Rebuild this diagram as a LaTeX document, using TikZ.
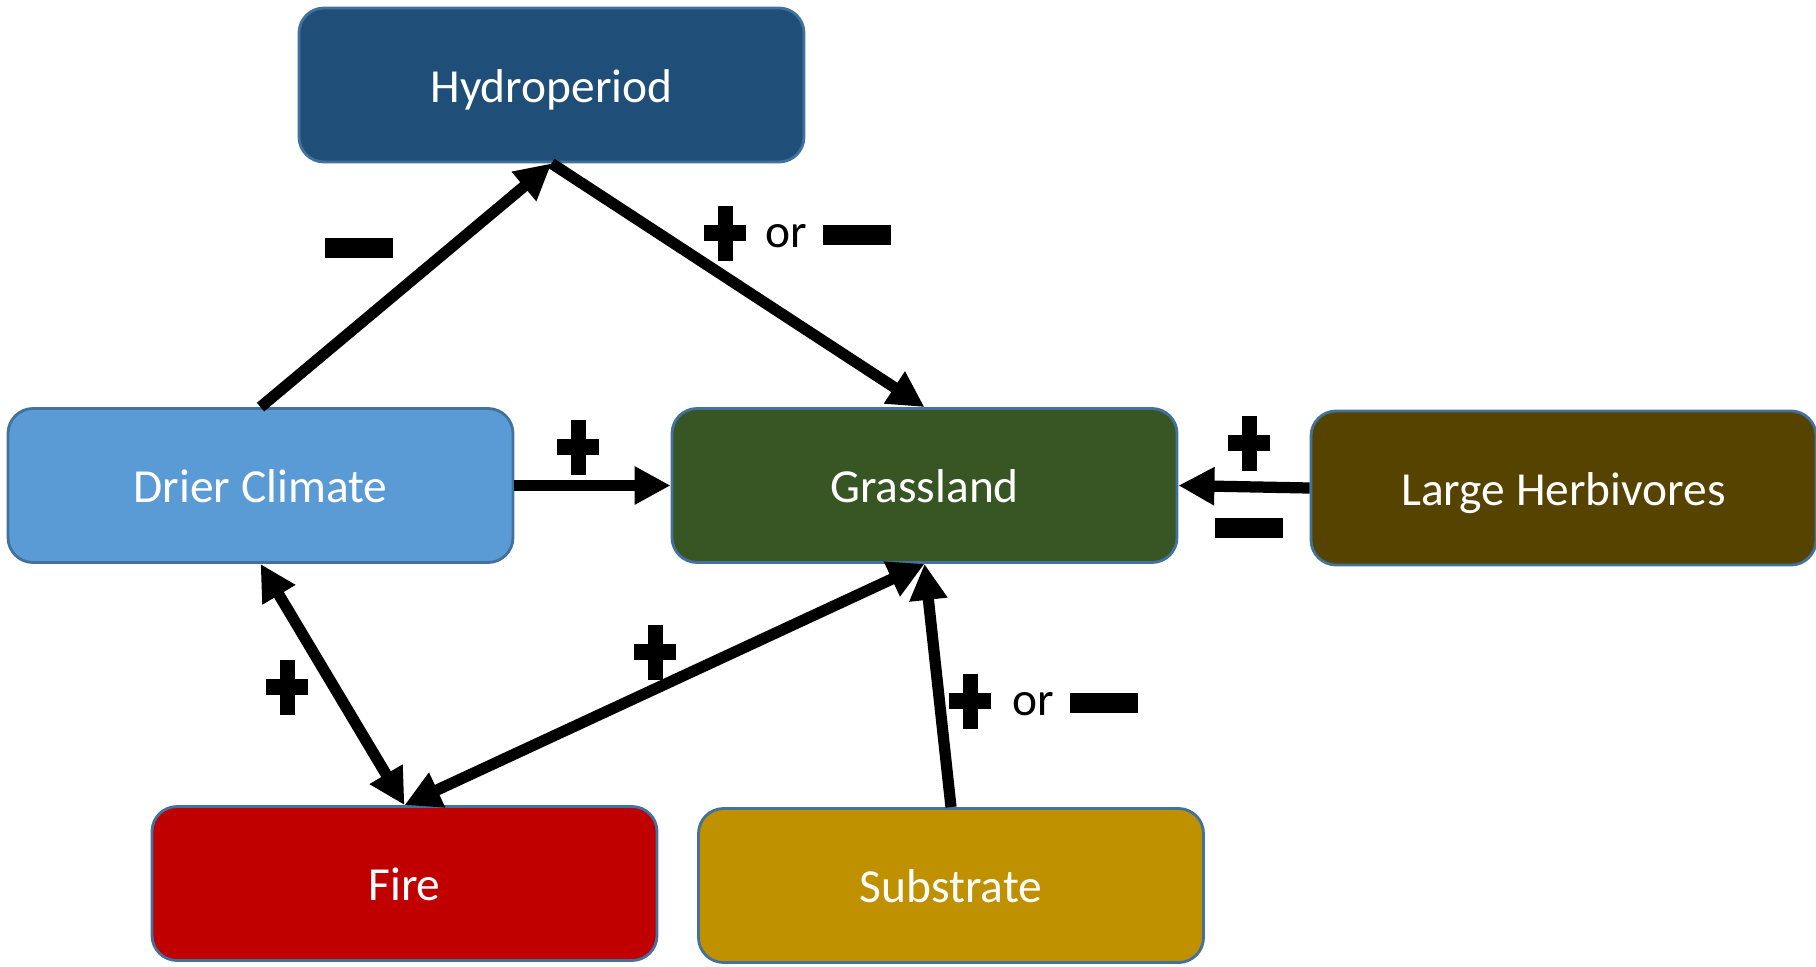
\documentclass[tikz,border=0pt]{standalone}
\usepackage{fontspec}
\setmainfont{Carlito}
\usetikzlibrary{arrows.meta}
\definecolor{hydroblue}{HTML}{1F4E79}
\definecolor{climblue}{HTML}{5B9BD5}
\definecolor{grassgreen}{HTML}{375623}
\definecolor{herbbrown}{HTML}{574300}
\definecolor{firered}{HTML}{C00000}
\definecolor{subgold}{HTML}{BF9000}
\definecolor{edgeblue}{HTML}{41719C}
\newcommand{\plusmark}{\rule[0.195cm]{0.42cm}{0.16cm}\kern-0.285cm\rule{0.15cm}{0.55cm}\kern0.135cm}
\newcommand{\minusmark}{\rule{0.68cm}{0.2cm}}
\tikzset{
  factor/.style={draw=edgeblue, line width=0.8pt, rounded corners=0.25cm,
    minimum width=5.05cm, minimum height=1.54cm, text=white,
    text height=0.34cm, text depth=0pt,
    font=\fontsize{13.5}{16}\selectfont},
  link/.style={line width=3.2pt, -{Triangle[length=0.36cm,width=0.36cm]}},
  twoway/.style={line width=3.2pt,
    {Triangle[length=0.36cm,width=0.36cm]}-{Triangle[length=0.36cm,width=0.36cm]}},
  sign/.style={inner sep=0pt},
  ortext/.style={inner sep=0pt, font=\fontsize{13.5}{16}\selectfont}
}
\begin{document}
\begin{tikzpicture}
  \useasboundingbox (0,0) rectangle (18.16,9.66);

  \node[factor, fill=hydroblue] (hydro) at (5.515,8.81) {Hydroperiod};
  \node[factor, fill=climblue] (climate) at (2.605,4.805) {Drier Climate};
  \node[factor, fill=grassgreen] (grass) at (9.245,4.805) {Grassland};
  \node[factor, fill=herbbrown] (herb) at (15.635,4.78) {Large Herbivores};
  \node[factor, fill=firered] (fire) at (4.045,0.825) {Fire};
  \node[factor, fill=subgold] (sub) at (9.51,0.805) {Substrate};

  \draw[link] (climate.north) -- (hydro.south);
  \draw[link] (hydro.south) -- (grass.north);
  \draw[link] (climate.east) -- (grass.west);
  \draw[link] (herb.west) -- (grass.east);
  \draw[twoway] (climate.south) -- (fire.north);
  \draw[twoway] (grass.south) -- (fire.north);
  \draw[link] (sub.north) -- (grass.south);

  \node[sign] (m1) at (3.59,7.18) {\minusmark};
  \node[sign] (p2) at (7.25,7.33) {\plusmark};
  \node[ortext] (or2) at (7.86,7.30) {or};
  \node[sign] (m2) at (8.57,7.31) {\minusmark};
  \node[sign] (p3) at (5.78,5.19) {\plusmark};
  \node[sign] (p4) at (12.49,5.23) {\plusmark};
  \node[sign] (m4) at (12.49,4.38) {\minusmark};
  \node[sign] (p5) at (2.87,2.79) {\plusmark};
  \node[sign] (p6) at (6.55,3.14) {\plusmark};
  \node[sign] (p7) at (9.70,2.65) {\plusmark};
  \node[ortext] (or7) at (10.33,2.62) {or};
  \node[sign] (m7) at (11.04,2.63) {\minusmark};

\end{tikzpicture}
\end{document}
